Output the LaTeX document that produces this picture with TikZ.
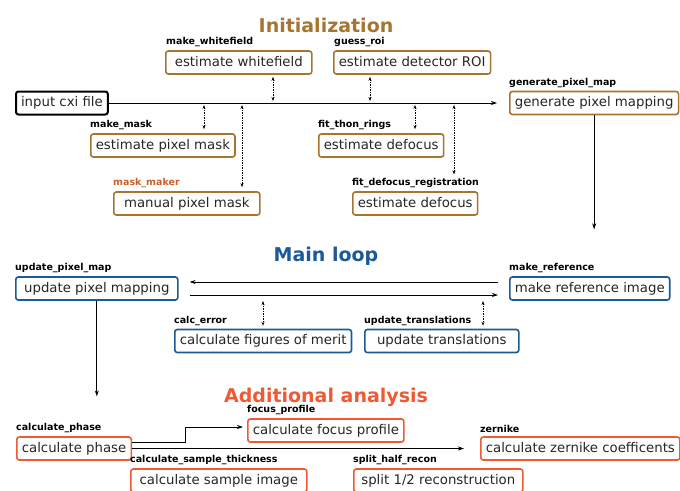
\documentclass[tikz,border=0pt]{standalone}
\usepackage{fontspec}
\setmainfont{DejaVu Sans}
\usetikzlibrary{positioning,arrows.meta}

\definecolor{initcol}{HTML}{A87530}
\definecolor{loopcol}{HTML}{1A5A96}
\definecolor{addcol}{HTML}{F05A33}
\definecolor{guicol}{HTML}{C8602E}

\tikzset{
  box/.style={draw, rounded corners=2.5pt, line width=1.6pt, inner xsep=5pt, inner ysep=5pt,
    minimum height=23pt, text height=9.8pt, text depth=2.8pt, anchor=west, fill=white,
    font=\fontsize{13.3}{16}\selectfont, text=black!85},
  initbox/.style={box, draw=initcol},
  loopbox/.style={box, draw=loopcol},
  addbox/.style={box, draw=addcol},
  lab/.style={font=\fontsize{9.5}{11}\selectfont\bfseries, inner sep=0pt},
  ttl/.style={font=\fontsize{19}{22}\selectfont\bfseries, anchor=base},
  flow/.style={line width=0.8pt, -{Stealth[length=6pt,width=4pt]}},
  dbl/.style={line width=0.7pt, dash pattern=on 1.5pt off 1pt,
    {Stealth[length=4pt,width=3pt]}-{Stealth[length=4pt,width=3pt]}}
}

\begin{document}
\begin{tikzpicture}[x=1pt,y=-1pt]
\useasboundingbox (0,0) rectangle (680,490);

% initialization
\node[ttl, text=initcol] (init) at (326,32) {Initialization};

\node[box, line width=2pt] (cxi) at (15,103) {input cxi file};

\node[initbox, minimum width=146pt] (wf) at (165,62.5) {estimate whitefield};
\node[lab, above right=3pt and 1pt of wf.north west] (wfl) {make\_whitefield};

\node[initbox] (roi) at (333,62.5) {estimate detector ROI};
\node[lab, above right=3pt and 1pt of roi.north west] (roil) {guess\_roi};

\node[initbox] (gpm) at (509,103) {generate pixel mapping};
\node[lab, above right=3pt and 0pt of gpm.north west] (gpml) {generate\_pixel\_map};

\node[initbox] (mask) at (90,145.5) {estimate pixel mask};
\node[lab, above right=3pt and 0pt of mask.north west] (maskl) {make\_mask};

\node[initbox, minimum width=146pt] (manual) at (113,203.5) {manual pixel mask};
\node[lab, text=guicol, above right=3pt and 0pt of manual.north west] (manuall) {mask\_maker};

\node[initbox] (thon) at (318,145.5) {estimate defocus};
\node[lab, above right=3pt and 0pt of thon.north west] (thonl) {fit\_thon\_rings};

\node[initbox] (defreg) at (352,203.5) {estimate defocus};
\node[lab, above right=3pt and 0pt of defreg.north west] (defregl) {fit\_defocus\_registration};

\draw[flow, shorten >=12pt] (cxi.east) -- (gpm.west);

\coordinate (jwf) at (273,103);
\coordinate (jmask) at (204,103);
\coordinate (jman) at (242,103);
\coordinate (jroi) at (370,103);
\coordinate (jthon) at (415,103);
\coordinate (jdef) at (454,103);
\draw[dbl] ([yshift=-2pt]wf.south -| jwf) -- ([yshift=2pt]jwf);
\draw[dbl] ([yshift=-2pt]roi.south -| jroi) -- ([yshift=2pt]jroi);
\draw[dbl] ([yshift=-2pt]jmask) -- ([yshift=4pt]mask.north -| jmask);
\draw[dbl] ([yshift=-2pt]jman) -- ([yshift=4pt]manual.north -| jman);
\draw[dbl] ([yshift=-2pt]jthon) -- ([yshift=4pt]thon.north -| jthon);
\draw[dbl] ([yshift=-2pt]jdef) -- ([yshift=4pt]defregl.north -| jdef);

% main loop
\node[ttl, text=loopcol] (loop) at (326,261) {Main loop};

\node[loopbox, minimum width=162pt] (upm) at (15,288.5) {update pixel mapping};
\node[lab, above right=3pt and 0pt of upm.north west] (upml) {update\_pixel\_map};

\node[loopbox] (mref) at (509,288.5) {make reference image};
\node[lab, above right=3pt and 0pt of mref.north west] (mrefl) {make\_reference};

\node[loopbox] (merit) at (174,341) {calculate figures of merit};
\node[lab, above right=3pt and 0pt of merit.north west] (meritl) {calc\_error};

\node[loopbox, minimum width=154pt] (trans) at (364,341) {update translations};
\node[lab, above right=3pt and 0pt of trans.north west] (transl) {update\_translations};

\draw[flow] (gpm.south) -- ([yshift=34pt]gpm.south |- mrefl.north);

\draw[flow, shorten <=11pt, shorten >=11pt] ([yshift=6.5pt]mref.west) -- ([yshift=6.5pt]mref.west -| upm.east);
\draw[flow, shorten <=11pt, shorten >=11pt] ([yshift=-6.5pt]upm.east) -- ([yshift=-6.5pt]upm.east -| mref.west);

\coordinate (jerr) at (263,295);
\coordinate (jtrans) at (483,295);
\draw[dbl] ([yshift=-6pt]jerr) -- ([yshift=3pt]merit.north -| jerr);
\draw[dbl] ([yshift=-6pt]jtrans) -- ([yshift=3pt]trans.north -| jtrans);

% additional analysis
\node[ttl, text=addcol] (add) at (326,402) {Additional analysis};

\node[addbox] (phase) at (16,448.5) {calculate phase};
\node[lab, above right=3pt and 0pt of phase.north west] (phasel) {calculate\_phase};

\node[addbox] (focus) at (247,430.5) {calculate focus profile};
\node[lab, above right=3pt and 0pt of focus.north west] (focusl) {focus\_profile};

\node[addbox] (zern) at (480,448.5) {calculate zernike coefficents};
\node[lab, above right=3pt and 0pt of zern.north west] (zernl) {zernike};

\node[addbox, minimum width=176pt] (sample) at (130,480.5) {calculate sample image};
\node[lab, above right=3pt and 0pt of sample.north west] (samplel) {calculate\_sample\_thickness};

\node[addbox, minimum width=169pt] (split) at (353,480.5) {split 1/2 reconstruction};
\node[lab, above right=3pt and 0pt of split.north west] (splitl) {split\_half\_recon};

\draw[flow] (upm.south) -- ([yshift=27pt]upm.south |- phasel.north);

\draw[flow, shorten >=4pt] ([yshift=6.5pt]phase.east) -- ++(53,0) |- ([yshift=3.5pt]focus.west);
\draw[flow, shorten >=16pt] (phase.east) -- (phase.east -| zern.west);

\end{tikzpicture}
\end{document}
